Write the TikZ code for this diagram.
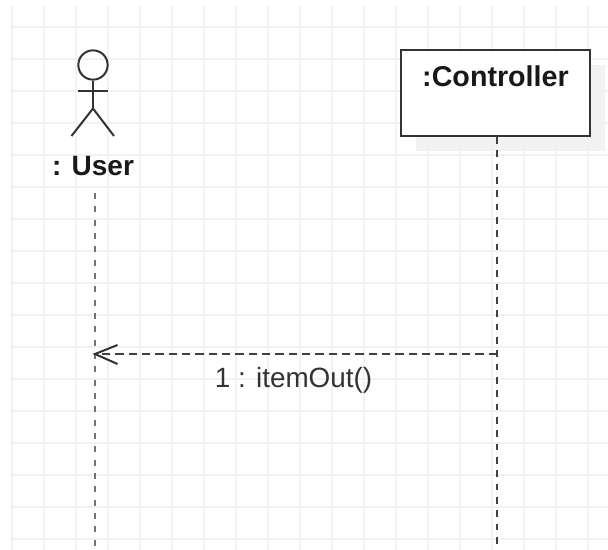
\documentclass[tikz,border=0pt]{standalone}
\usepackage{fontspec}
\setmainfont{Liberation Sans}
\usetikzlibrary{arrows.meta}
\tikzset{
  px/.style={x=0.75pt,y=-0.75pt},
  gridline/.style={draw=black!5,line width=1pt},
  actorline/.style={draw=black!80,line width=1.5pt},
  lifeline/.style={draw=black!55,line width=2.1pt,dash pattern=on 4.5pt off 5.5pt},
  ctrlline/.style={draw=black!75,line width=1.7pt,dash pattern=on 5pt off 5pt},
  msgline/.style={draw=black!75,line width=1.3pt,dash pattern=on 6.3pt off 3.7pt},
  boxstyle/.style={draw=black!80,line width=1.5pt,fill=white,minimum width=141.5pt,minimum height=64.5pt,inner sep=0pt},
  shadowstyle/.style={fill=black!5,draw=none,minimum width=141.5pt,minimum height=64.5pt,inner sep=0pt},
}
\begin{document}
\begin{tikzpicture}[px]
\useasboundingbox (0,0) rectangle (608,550);
\fill[white] (0,0) rectangle (608,550);
\foreach \x in {12,44,...,620}{\draw[gridline] (\x,6) -- (\x,550);}
\foreach \y in {27,59,...,550}{\draw[gridline] (12,\y) -- (608,\y);}
\node[shadowstyle] (shadow) at (510.5,108) {};
\node[boxstyle] (ctrl) at (495.5,93) {};
\node[font=\bfseries,scale=2.15,anchor=base,text=black!90] (ctrlLabel) at (495.5,86.5) {:Controller};
\node[circle,draw=black!80,line width=1.5pt,minimum size=22pt,inner sep=0pt] (head) at (93,65) {};
\coordinate (armL) at (77.5,90.5);
\coordinate (armR) at (108,90.5);
\coordinate (hip) at (93,108.5);
\coordinate (legL) at (71.5,136);
\coordinate (legR) at (114,136);
\draw[actorline] (head.south) -- (hip);
\draw[actorline] (armL) -- (armR);
\draw[actorline] (legL) -- (hip) -- (legR);
\node[font=\bfseries,scale=2.1,anchor=base,text=black!90] (user) at (93,175) {: User};
\coordinate (userTop) at (95,193);
\coordinate (userBottom) at (95,548);
\coordinate (ctrlBottom) at (497,548);
\coordinate (userMsg) at (95,354);
\coordinate (ctrlMsg) at (497,354);
\draw[lifeline] (userTop) -- (userBottom);
\draw[ctrlline] (ctrl.south -| ctrlBottom) -- (ctrlBottom);
\draw[msgline] (ctrlMsg) -- (userMsg);
\coordinate (headA) at (117.5,345);
\coordinate (headB) at (117.5,364);
\draw[actorline,line join=miter] (headA) -- (userMsg) -- (headB);
\node[text=black!80,scale=2.09,anchor=base] (msg) at (293.5,387) {1 : itemOut()};
\end{tikzpicture}
\end{document}
